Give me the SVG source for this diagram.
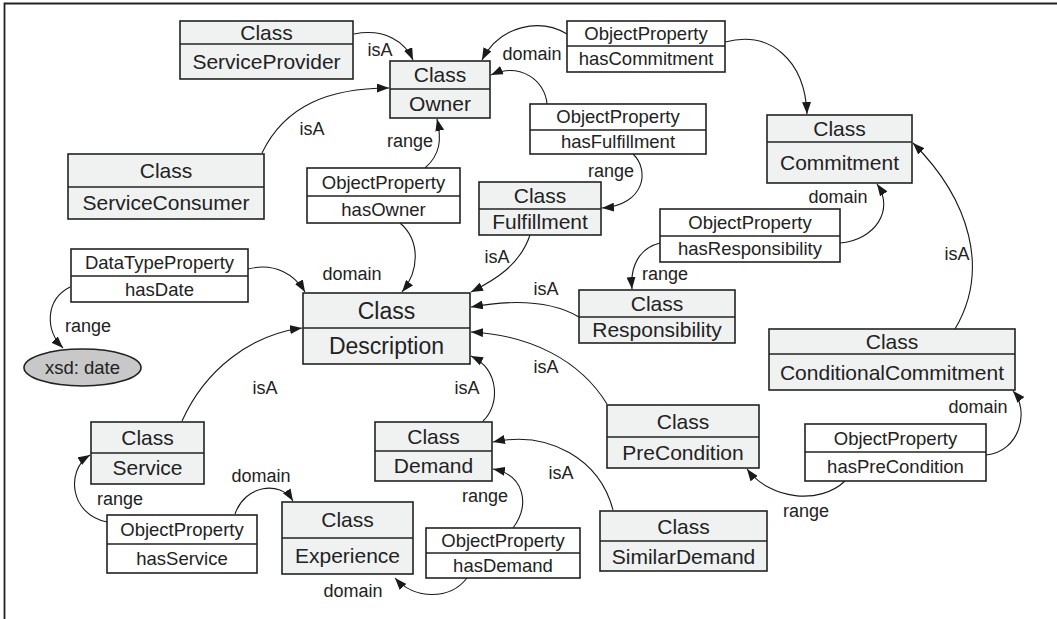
<svg xmlns="http://www.w3.org/2000/svg" width="1057" height="619" viewBox="0 0 1057 619">
<defs>
<marker id="arr" markerWidth="12" markerHeight="9" refX="12" refY="4.5" orient="auto" markerUnits="userSpaceOnUse"><path d="M0,0 L12,4.5 L0,9 z" fill="#1a1a1a"/></marker>
</defs>
<style>
.cls rect{fill:#f0f2f2;stroke:#222;stroke-width:1.6}
.prop rect{fill:#fff;stroke:#222;stroke-width:1.6}
.div{stroke:#222;stroke-width:1.6}
text{font-family:"Liberation Sans",Arial,sans-serif;fill:#222;text-anchor:middle}
.ct{font-size:21px}
.pt{font-size:18.5px}
.lb{font-size:18px}
.dt{font-size:23px}
#connectors path{fill:none;stroke:#1a1a1a;stroke-width:1.1;marker-end:url(#arr)}
</style>
<rect x="0" y="0" width="1057" height="619" fill="#fff"/>
<path d="M4.5,619 V3.5 H1057" fill="none" stroke="#222" stroke-width="1.8"/>

<g id="connectors">
<path d="M354,34 C385,28 405,42 413,60"/>
<path d="M567,34 C540,18 500,25 482,60"/>
<path d="M725,42 C770,30 805,60 807,114"/>
<path d="M547,104 C545,80 520,62 491,75"/>
<path d="M633,154 C650,170 645,205 602,208"/>
<path d="M425,168 C440,155 442,140 437,119"/>
<path d="M262,153 C285,105 330,88 389,88"/>
<path d="M400,223 C420,240 420,270 402,292"/>
<path d="M530,235 C520,265 495,280 471,292"/>
<path d="M248,269 C275,262 295,275 305,292"/>
<path d="M70,287 C45,300 45,330 63,348"/>
<path d="M840,243 C875,240 895,210 877,184"/>
<path d="M660,243 C640,248 630,265 632,289"/>
<path d="M579,317 C550,300 510,300 471,307"/>
<path d="M955,329 C990,270 970,200 913,143"/>
<path d="M607,404 C580,360 530,335 471,332"/>
<path d="M483,421 C500,405 500,370 471,356"/>
<path d="M182,421 C205,370 250,335 302,328"/>
<path d="M986,455 C1020,452 1030,410 1013,391"/>
<path d="M845,481 C820,505 770,500 747,469"/>
<path d="M613,510 C600,460 550,430 493,442"/>
<path d="M513,528 C530,505 525,475 493,469"/>
<path d="M467,578 C450,600 415,600 395,578"/>
<path d="M107,522 C70,515 65,470 90,455"/>
<path d="M235,514 C245,485 280,480 293,501"/>
</g>

<g id="labels" class="lb">
<text class="lb" x="380" y="56">isA</text>
<text class="lb" x="532" y="60">domain</text>
<text class="lb" x="410" y="147">range</text>
<text class="lb" x="611" y="177">range</text>
<text class="lb" x="312" y="135">isA</text>
<text class="lb" x="838" y="203">domain</text>
<text class="lb" x="957" y="260">isA</text>
<text class="lb" x="352" y="280">domain</text>
<text class="lb" x="497" y="263">isA</text>
<text class="lb" x="665" y="280">range</text>
<text class="lb" x="546" y="295">isA</text>
<text class="lb" x="546" y="373">isA</text>
<text class="lb" x="467" y="394">isA</text>
<text class="lb" x="88" y="332">range</text>
<text class="lb" x="265" y="394">isA</text>
<text class="lb" x="978" y="413">domain</text>
<text class="lb" x="120" y="505">range</text>
<text class="lb" x="261" y="482">domain</text>
<text class="lb" x="353" y="597">domain</text>
<text class="lb" x="485" y="502">range</text>
<text class="lb" x="561" y="479">isA</text>
<text class="lb" x="806" y="517">range</text>
</g>

<g id="ServiceProvider" class="cls"><rect x="180" y="21" width="173" height="58"/><line class="div" x1="180" y1="44" x2="353" y2="44"/><text class="ct" x="266.5" y="40">Class</text><text class="ct" x="266.5" y="69">ServiceProvider</text></g>
<g id="Owner" class="cls"><rect x="390" y="61" width="100" height="57"/><line class="div" x1="390" y1="89" x2="490" y2="89"/><text class="ct" x="440" y="82">Class</text><text class="ct" x="440" y="111">Owner</text></g>
<g id="hasCommitment" class="prop"><rect x="567" y="21" width="158" height="51"/><line class="div" x1="567" y1="46" x2="725" y2="46"/><text class="pt" x="646" y="40">ObjectProperty</text><text class="pt" x="646" y="65">hasCommitment</text></g>
<g id="Commitment" class="cls"><rect x="767" y="115" width="145" height="68"/><line class="div" x1="767" y1="142" x2="912" y2="142"/><text class="ct" x="839.5" y="136">Class</text><text class="ct" x="839.5" y="170">Commitment</text></g>
<g id="hasFulfillment" class="prop"><rect x="530" y="104" width="176" height="50"/><line class="div" x1="530" y1="130" x2="706" y2="130"/><text class="pt" x="618" y="123">ObjectProperty</text><text class="pt" x="618" y="148">hasFulfillment</text></g>
<g id="ServiceConsumer" class="cls"><rect x="68" y="154" width="196" height="65"/><line class="div" x1="68" y1="187" x2="264" y2="187"/><text class="ct" x="166" y="178">Class</text><text class="ct" x="166" y="210">ServiceConsumer</text></g>
<g id="hasOwner" class="prop"><rect x="307" y="168" width="153" height="55"/><line class="div" x1="307" y1="196" x2="460" y2="196"/><text class="pt" x="383.5" y="189">ObjectProperty</text><text class="pt" x="383.5" y="216">hasOwner</text></g>
<g id="Fulfillment" class="cls"><rect x="479" y="182" width="122" height="53"/><line class="div" x1="479" y1="209" x2="601" y2="209"/><text class="ct" x="540" y="203">Class</text><text class="ct" x="540" y="229">Fulfillment</text></g>
<g id="hasResponsibility" class="prop"><rect x="660" y="209" width="180" height="53"/><line class="div" x1="660" y1="236" x2="840" y2="236"/><text class="pt" x="750" y="229">ObjectProperty</text><text class="pt" x="750" y="255">hasResponsibility</text></g>
<g id="Responsibility" class="cls"><rect x="579" y="290" width="156" height="53"/><line class="div" x1="579" y1="317" x2="735" y2="317"/><text class="ct" x="657" y="311">Class</text><text class="ct" x="657" y="337">Responsibility</text></g>
<g id="Description" class="cls"><rect x="303" y="293" width="167" height="71"/><line class="div" x1="303" y1="328" x2="470" y2="328"/><text class="dt" x="386.5" y="319">Class</text><text class="dt" x="386.5" y="354">Description</text></g>
<g id="hasDate" class="prop"><rect x="71" y="249" width="177" height="53"/><line class="div" x1="71" y1="276" x2="248" y2="276"/><text class="pt" x="159.5" y="269">DataTypeProperty</text><text class="pt" x="159.5" y="296">hasDate</text></g>
<g id="xsdDate"><ellipse cx="82.5" cy="367.5" rx="58.5" ry="18.5" fill="#c8c8c8" stroke="#222" stroke-width="1.6"/><text class="pt" x="82.5" y="374">xsd: date</text></g>
<g id="ConditionalCommitment" class="cls"><rect x="769" y="329" width="246" height="61"/><line class="div" x1="769" y1="354" x2="1015" y2="354"/><text class="ct" x="892" y="349">Class</text><text class="ct" x="892" y="380">ConditionalCommitment</text></g>
<g id="Service" class="cls"><rect x="91" y="422" width="113" height="62"/><line class="div" x1="91" y1="453" x2="204" y2="453"/><text class="ct" x="147.5" y="445">Class</text><text class="ct" x="147.5" y="475">Service</text></g>
<g id="hasService" class="prop"><rect x="107" y="515" width="150" height="58"/><line class="div" x1="107" y1="544" x2="257" y2="544"/><text class="pt" x="182" y="536">ObjectProperty</text><text class="pt" x="182" y="565">hasService</text></g>
<g id="Experience" class="cls"><rect x="282" y="502" width="131" height="72"/><line class="div" x1="282" y1="538" x2="413" y2="538"/><text class="ct" x="347.5" y="527">Class</text><text class="ct" x="347.5" y="563">Experience</text></g>
<g id="Demand" class="cls"><rect x="375" y="422" width="117" height="59"/><line class="div" x1="375" y1="451" x2="492" y2="451"/><text class="ct" x="433.5" y="444">Class</text><text class="ct" x="433.5" y="473">Demand</text></g>
<g id="hasDemand" class="prop"><rect x="426" y="528" width="154" height="50"/><line class="div" x1="426" y1="553" x2="580" y2="553"/><text class="pt" x="503" y="547">ObjectProperty</text><text class="pt" x="503" y="572">hasDemand</text></g>
<g id="SimilarDemand" class="cls"><rect x="600" y="511" width="167" height="60"/><line class="div" x1="600" y1="541" x2="767" y2="541"/><text class="ct" x="683.5" y="534">Class</text><text class="ct" x="683.5" y="564">SimilarDemand</text></g>
<g id="PreCondition" class="cls"><rect x="607" y="405" width="152" height="63"/><line class="div" x1="607" y1="437" x2="759" y2="437"/><text class="ct" x="683" y="429">Class</text><text class="ct" x="683" y="460">PreCondition</text></g>
<g id="hasPreCondition" class="prop"><rect x="805" y="424" width="181" height="57"/><line class="div" x1="805" y1="452" x2="986" y2="452"/><text class="pt" x="895.5" y="445">ObjectProperty</text><text class="pt" x="895.5" y="473">hasPreCondition</text></g>
</svg>
